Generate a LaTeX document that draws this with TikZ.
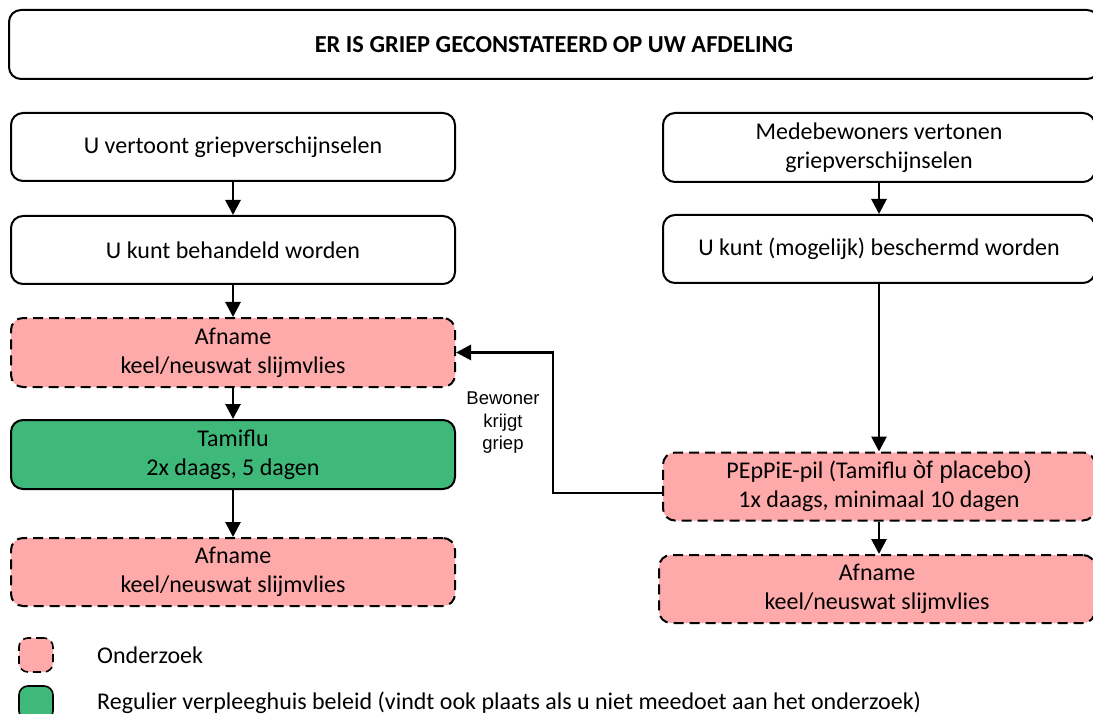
\documentclass[tikz,border=0pt]{standalone}
\usepackage{fontspec}
\setmainfont{Carlito}
\newfontfamily\arialf{Liberation Sans}
\usetikzlibrary{arrows.meta}
\definecolor{pinkf}{HTML}{FFAAAA}
\definecolor{greenf}{HTML}{3FB97A}
\tikzset{
  box/.style={draw=black, line width=2pt, rounded corners=12pt, align=center, inner sep=0pt,
    font=\fontsize{24}{29}\selectfont},
  wbox/.style={box, fill=white},
  pbox/.style={box, fill=pinkf, dash pattern=on 10pt off 6pt},
  gbox/.style={box, fill=greenf},
  conn/.style={line width=2.8pt, -{Triangle[length=15pt,width=15pt]}},
  lbl/.style={font=\arialf\fontsize{18.5}{22.5}\selectfont, align=center, inner sep=0pt},
  legtext/.style={font=\fontsize{24}{29}\selectfont, anchor=west, inner sep=0pt}
}
\begin{document}
\begin{tikzpicture}[x=1pt,y=-1pt]
\useasboundingbox (0,0) rectangle (1093,714);
% title
\node[wbox, minimum width=1090pt, minimum height=69pt, font=\bfseries\fontsize{24.4}{29}\selectfont] (title) at (554,44.5) {ER IS GRIEP GECONSTATEERD OP UW AFDELING};
% left column
\node[wbox, minimum width=444pt, minimum height=68pt] (l1) at (233,147) {U vertoont griepverschijnselen};
\node[wbox, minimum width=444pt, minimum height=68pt] (l2) at (233,250) {U kunt behandeld worden};
\node[pbox, minimum width=444pt, minimum height=69pt] (l3) at (233,352.5) {Afname\\keel/neuswat slijmvlies};
\node[gbox, minimum width=444pt, minimum height=69pt] (l4) at (233,454.5) {Tamiflu\\2x daags, 5 dagen};
\node[pbox, minimum width=444pt, minimum height=68pt] (l5) at (233,572) {Afname\\keel/neuswat slijmvlies};
% right column
\node[wbox, minimum width=432pt, minimum height=69pt] (r1) at (879,147.5) {Medebewoners vertonen\\griepverschijnselen};
\node[wbox, minimum width=432pt, minimum height=68pt] (r2) at (879,249) {U kunt (mogelijk) beschermd worden};
\node[pbox, minimum width=432pt, minimum height=68pt] (r3) at (879,486.5) {PEpPiE-pil (Tamiflu {\arialf\fontsize{24}{29}\selectfont òf placebo)}\\1x daags, minimaal 10 dagen};
\node[pbox, minimum width=436pt, minimum height=68pt] (r4) at (877,589) {Afname\\keel/neuswat slijmvlies};
% connectors
\draw[conn] (l1) -- (l2);
\draw[conn] (l2) -- (l3);
\draw[conn] (l3) -- (l4);
\draw[conn] (l4) -- (l5);
\draw[conn] (r1) -- (r2);
\draw[conn] (r2) -- (r3);
\draw[conn] (r3) -- (r3 |- r4.north);
\coordinate (fb) at (r3.west |- 0,493);
\coordinate (fbc) at (553,493);
\draw[conn] (fb) -- (fbc) |- (l3.east);
\node[lbl] (fblbl) at (503,423) {Bewoner\\krijgt\\griep};
% legend
\node[pbox, line width=1.6pt, rounded corners=9pt, minimum width=34pt, minimum height=34pt, dash pattern=on 8pt off 5pt] (legp) at (36,655) {};
\node[gbox, line width=1.6pt, rounded corners=9pt, minimum width=34pt, minimum height=34pt] (legg) at (36,703) {};
\node[legtext] (legpt) at (97,655) {Onderzoek};
\node[legtext] (leggt) at (97,703) {Regulier verpleeghuis beleid (vindt ook plaats als u niet meedoet aan het onderzoek)};
\end{tikzpicture}
\end{document}
